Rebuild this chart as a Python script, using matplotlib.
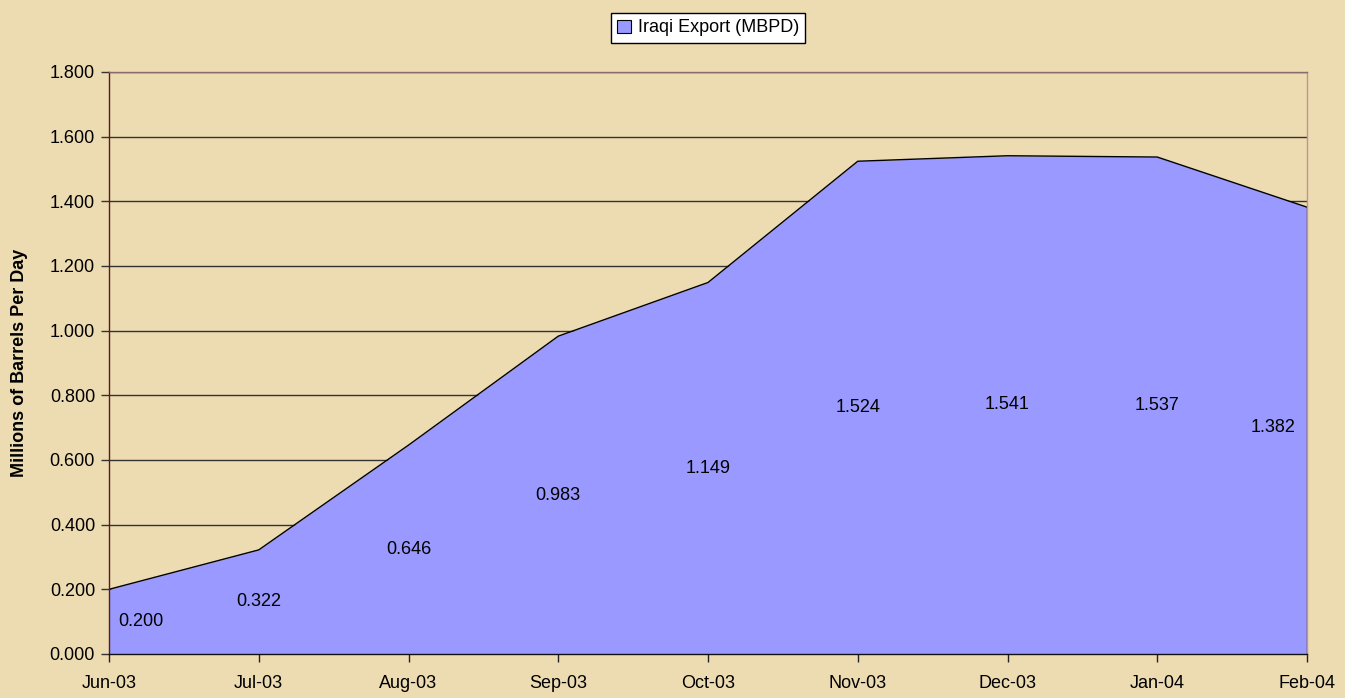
import matplotlib
matplotlib.use("Agg")
import matplotlib.pyplot as plt
from matplotlib.patches import Patch

plt.rcParams['font.family'] = ['Liberation Sans', 'DejaVu Sans']

months = ["Jun-03", "Jul-03", "Aug-03", "Sep-03", "Oct-03", "Nov-03", "Dec-03", "Jan-04", "Feb-04"]
exports = [0.200, 0.322, 0.646, 0.983, 1.149, 1.524, 1.541, 1.537, 1.382]
yticks = [0.0, 0.2, 0.4, 0.6, 0.8, 1.0, 1.2, 1.4, 1.6, 1.8]
series_name = "Iraqi Export (MBPD)"

bg = "#EDDCB2"
fill_color = "#9999FF"
fs = 13

fig = plt.figure(figsize=(13.45, 6.98), dpi=100, facecolor=bg)
ax = fig.add_axes([109/1345, 1 - 654/698, (1307-109)/1345, (654-72)/698])
ax.set_facecolor("none")

x = list(range(len(months)))
ax.fill_between(x, exports, 0, color=fill_color, zorder=2, linewidth=0)
ax.plot(x, exports, color="black", linewidth=1.0, zorder=3)
ax.plot([x[-1], x[-1]], [0, exports[-1]], color="black", linewidth=1.0, zorder=3)

ax.set_xlim(0, len(months) - 1)
ax.set_ylim(0, 1.8)
ax.set_yticks(yticks)
ax.set_yticklabels([f"{v:.3f}" for v in yticks], fontsize=fs)
ax.set_xticks(x)
ax.set_xticklabels(months, fontsize=fs)
ax.tick_params(axis='y', direction='out', length=6, width=1, color='#333333', pad=4)
ax.tick_params(axis='x', direction='out', length=6, width=1, color='#222222', pad=9)

for v in yticks[1:]:
    ax.axhline(v, color="#333333", linewidth=1.0, zorder=1)

ax.spines['left'].set_color('#5a1a1a')
ax.spines['bottom'].set_color('#111111')
ax.spines['top'].set_color('#8a6a6a')
ax.spines['right'].set_color('#c89090')
for s in ax.spines.values():
    s.set_linewidth(1.0)
    s.set_zorder(4)

for i, v in enumerate(exports):
    if i == 0:
        ax.annotate(f"{v:.3f}", (i, v / 2), xytext=(7, 0), textcoords='offset points',
                    ha='left', va='center', fontsize=fs, zorder=5)
    elif i == len(exports) - 1:
        ax.annotate(f"{v:.3f}", (i, v / 2), xytext=(-8, 2), textcoords='offset points',
                    ha='right', va='center', fontsize=fs, zorder=5)
    else:
        ax.text(i, v / 2, f"{v:.3f}", ha='center', va='center', fontsize=fs, zorder=5)

ax.set_ylabel("Millions of Barrels Per Day", fontsize=fs, fontweight='bold', labelpad=16)

leg = fig.legend(handles=[Patch(facecolor=fill_color, edgecolor='black', linewidth=0.8, label=series_name)],
                 loc='center', bbox_to_anchor=(708/1345, 1 - 28/698), fontsize=fs,
                 frameon=True, fancybox=False, edgecolor='black', facecolor='white', framealpha=1,
                 handlelength=0.75, handleheight=0.75, handletextpad=0.4, borderpad=0.35,
                 borderaxespad=0)
leg.get_frame().set_linewidth(1.0)

fig.savefig("out.png", dpi=100, facecolor=bg)
